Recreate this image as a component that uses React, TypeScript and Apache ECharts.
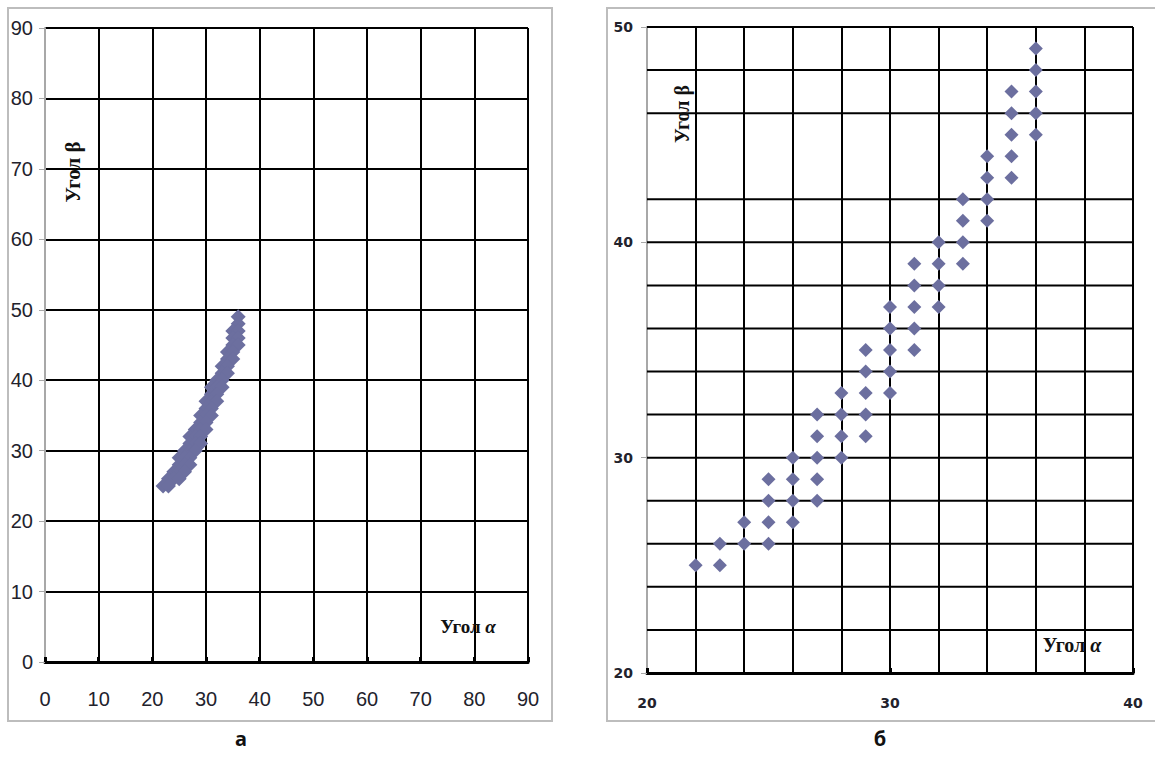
import React, { useEffect, useRef } from "react";
import * as echarts from "echarts";

// Angle α (x) and angle β (y) readings, shared by both panels
const alphaValues = [36, 36, 35, 36, 35, 36, 35, 36, 34, 35, 34, 35, 33, 34, 33, 34, 32, 33, 31, 32, 33, 31, 32, 30, 31, 32, 30, 31, 29, 30, 31, 29, 30, 28, 29, 30, 27, 28, 29, 27, 28, 29, 26, 27, 28, 25, 26, 27, 25, 26, 27, 24, 25, 26, 23, 24, 25, 22, 23];
const betaValues = [49, 48, 47, 47, 46, 46, 45, 45, 44, 44, 43, 43, 42, 42, 41, 41, 40, 40, 39, 39, 39, 38, 38, 37, 37, 37, 36, 36, 35, 35, 35, 34, 34, 33, 33, 33, 32, 32, 32, 31, 31, 31, 30, 30, 30, 29, 29, 29, 28, 28, 28, 27, 27, 27, 26, 26, 26, 25, 25];

// Axis ranges
const leftRange = [0, 90];
const rightXRange = [20, 40];
const rightYRange = [20, 50];
// Horizontal grid lines drawn in panel б (the 44 line is absent in the source)
const rightGridY = [22, 24, 26, 28, 30, 32, 34, 36, 38, 40, 42, 46, 48, 50];

const titleX = "Угол α";
const titleY = "Угол β";
const panelLabels = ["а", "б"];

const MARK = "#6c6f9f";
const GRID = "#000000";
const AXIS_GRAY = "#a8a8a8";
const LABEL = "#22222c";

function alphaTitle(x: number, y: number, size: number) {
  return {
    type: "text", x, y, z: 10,
    style: {
      text: "{n|" + titleX.slice(0, -1) + "}{g|" + titleX.slice(-1) + "}",
      align: "center", verticalAlign: "middle",
      rich: {
        n: { font: `bold ${size}px "Liberation Serif", serif`, fill: "#111" },
        g: { font: `italic bold ${size}px "Liberation Serif", serif`, fill: "#111" },
      },
    },
  };
}

function betaTitle(x: number, y: number, size: number) {
  return {
    type: "text", x, y, rotation: Math.PI / 2, z: 10,
    style: { text: titleY, font: `bold ${size}px "Liberation Serif", serif`, fill: "#111", align: "center", verticalAlign: "middle" },
  };
}

export default function App() {
  const ref = useRef<HTMLDivElement>(null);

  useEffect(() => {
    if (!ref.current) return;
    const chart = echarts.init(ref.current, undefined, { renderer: "svg" });
    const points = alphaValues.map((a, i) => [a, betaValues[i]]);

    const xBase = {
      type: "value" as const,
      axisLine: { show: true, onZero: false, lineStyle: { color: "#000", width: 3 } },
      axisTick: { show: true, inside: true, length: 5, lineStyle: { color: "#000", width: 3 } },
      splitLine: { show: true, showMinLine: false, lineStyle: { color: GRID, width: 2 } },
    };
    const yBase = {
      type: "value" as const,
      axisLine: { show: true, onZero: false, lineStyle: { color: AXIS_GRAY, width: 2 } },
      axisTick: { show: true, inside: false, length: 6, lineStyle: { color: AXIS_GRAY, width: 1 } },
    };
    const leftFont = { color: LABEL, fontFamily: "Liberation Sans Narrow, Arial Narrow, sans-serif", fontSize: 20 };
    const rightFont = { color: LABEL, fontFamily: "DejaVu Sans, sans-serif", fontSize: 14, fontWeight: "bold" as const };

    const option: any = {
      animation: false,
      backgroundColor: "#ffffff",
      grid: [
        { left: 45, top: 28, width: 483, height: 634 },
        { left: 647, top: 27, width: 486, height: 646 },
      ],
      xAxis: [
        {
          ...xBase,
          gridIndex: 0,
          min: leftRange[0],
          max: leftRange[1],
          interval: 10,
          axisLabel: { margin: 27, ...leftFont },
        },
        {
          ...xBase,
          gridIndex: 1,
          min: rightXRange[0],
          max: rightXRange[1],
          interval: 10,
          axisLabel: { margin: 23, ...rightFont },
          minorTick: { show: false, splitNumber: 5 },
          minorSplitLine: { show: true, lineStyle: { color: GRID, width: 2 } },
        },
      ],
      yAxis: [
        {
          ...yBase,
          gridIndex: 0,
          min: leftRange[0],
          max: leftRange[1],
          interval: 10,
          axisLabel: { margin: 12, ...leftFont },
          splitLine: { show: true, showMinLine: false, lineStyle: { color: GRID, width: 2 } },
        },
        {
          ...yBase,
          gridIndex: 1,
          min: rightYRange[0],
          max: rightYRange[1],
          interval: 10,
          axisLabel: { margin: 14, ...rightFont },
          splitLine: { show: false },
        },
      ],
      series: [
        {
          type: "custom",
          xAxisIndex: 1,
          yAxisIndex: 1,
          z: 1,
          silent: true,
          clip: false,
          data: rightGridY.map((v) => [rightXRange[0], v]),
          renderItem: (params: any, api: any) => {
            const p = api.coord([rightXRange[0], api.value(1)]);
            const cs = params.coordSys;
            return {
              type: "line",
              shape: { x1: cs.x, y1: p[1], x2: cs.x + cs.width, y2: p[1] },
              style: { stroke: GRID, lineWidth: 2 },
            };
          },
        },
        {
          type: "scatter",
          xAxisIndex: 0,
          yAxisIndex: 0,
          z: 3,
          symbol: "diamond",
          symbolSize: 15,
          itemStyle: { color: MARK, opacity: 1 },
          data: points,
        },
        {
          type: "scatter",
          xAxisIndex: 1,
          yAxisIndex: 1,
          z: 3,
          symbol: "diamond",
          symbolSize: 14,
          itemStyle: { color: MARK, opacity: 1 },
          data: points,
        },
      ],
      graphic: [
        { type: "rect", z: -1, shape: { x: 8, y: 8, width: 544, height: 713 }, style: { fill: "none", stroke: "#bdbdbd", lineWidth: 2 } },
        { type: "rect", z: -1, shape: { x: 607, y: 8, width: 560, height: 713 }, style: { fill: "none", stroke: "#bdbdbd", lineWidth: 2 } },
        betaTitle(73, 172, 21),
        betaTitle(682, 114, 20),
        alphaTitle(468, 626, 19),
        alphaTitle(1072, 645, 20),
        {
          type: "text", x: 241, y: 738,
          style: { text: panelLabels[0], font: 'bold 20px "Noto Sans", sans-serif', fill: "#111", align: "center", verticalAlign: "middle" },
        },
        {
          type: "text", x: 880, y: 738,
          style: { text: panelLabels[1], font: 'bold 20px "Noto Sans", sans-serif', fill: "#111", align: "center", verticalAlign: "middle" },
        },
      ],
    };

    chart.setOption(option);
    return () => chart.dispose();
  }, []);

  return (
    <div
      ref={ref}
      style={{ position: "fixed", left: 0, top: 0, width: 1155, height: 765, background: "#fff" }}
    />
  );
}
